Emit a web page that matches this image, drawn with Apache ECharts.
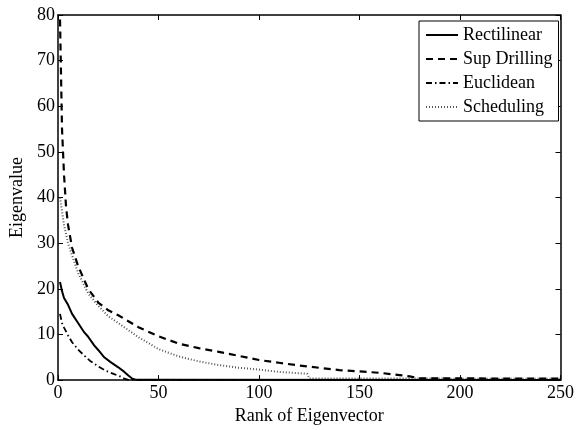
<!DOCTYPE html>
<html>
<head>
<meta charset="utf-8">
<script src="https://cdn.jsdelivr.net/npm/echarts@6/dist/echarts.min.js"></script>
<style>html,body{margin:0;padding:0;background:#fff}#c{width:577px;height:430px}</style>
</head>
<body>
<div id="c"></div>
<script>
const xTicks = [0, 50, 100, 150, 200, 250];
const yTicks = [0, 10, 20, 30, 40, 50, 60, 70, 80];

const rectRank = [1, 2, 3, 5, 7, 10, 13, 15, 18, 20, 23, 26, 30, 33, 35, 37, 39, 250];
const rectVal  = [21.5, 19.5, 18, 16.5, 14.5, 12.5, 10.5, 9.5, 7.6, 6.6, 5.0, 4.0, 2.8, 1.8, 1.0, 0.3, 0.05, 0];

const drillRank = [1, 2, 3, 4, 5, 7, 10, 15, 20, 25, 30, 40, 50, 60, 70, 80, 90, 100, 110, 120, 130, 140, 150, 160, 170, 175, 180, 250];
const drillVal  = [79, 55, 45, 38, 34, 29, 25, 20, 17, 15.3, 14.2, 11.6, 9.6, 8.0, 7.0, 6.2, 5.3, 4.4, 3.8, 3.2, 2.7, 2.2, 1.9, 1.6, 1.1, 0.8, 0.4, 0.3];

const euclRank = [1, 2, 3, 5, 7, 10, 13, 16, 20, 24, 28, 31, 33, 35, 250];
const euclVal  = [14.5, 12.5, 11.5, 9.8, 8.3, 6.7, 5.4, 4.2, 3.0, 2.0, 1.3, 0.8, 0.3, 0.05, 0];

const schedRank = [1, 3, 5, 8, 10, 15, 20, 25, 30, 40, 50, 60, 70, 80, 90, 100, 110, 120, 124, 125, 250];
const schedVal  = [40, 34, 30, 26, 23.5, 19, 16.3, 14, 12.5, 9.4, 6.8, 5.2, 4.1, 3.3, 2.7, 2.3, 1.8, 1.5, 1.4, 0.35, 0.3];

const seriesNames = ['Rectilinear', 'Sup Drilling', 'Euclidean', 'Scheduling'];

function pairs(xs, ys) { return xs.map((x, i) => [x, ys[i]]); }

const font = 'Liberation Serif, Times New Roman, serif';
const chart = echarts.init(document.getElementById('c'), null, {renderer: 'canvas'});

const axisCommon = {
  type: 'value',
  axisLine: {show: true, onZero: false, lineStyle: {color: '#000', width: 1.5}},
  axisTick: {show: true, inside: true, length: 5, lineStyle: {color: '#000', width: 1}},
  splitLine: {show: false},
};

chart.setOption({
  animation: false,
  backgroundColor: '#fff',
  grid: {left: 58, right: 15, top: 15, bottom: 44, containLabel: false},
  xAxis: [
    Object.assign({}, axisCommon, {
      min: 0, max: 250, interval: 50, position: 'bottom',
      name: 'Rank of Eigenvector', nameLocation: 'middle', nameGap: 22,
      nameTextStyle: {fontFamily: font, fontSize: 18, color: '#000'},
      axisLabel: {fontFamily: font, fontSize: 18, color: '#000', margin: 4,
        formatter: v => xTicks.includes(v) ? String(v) : ''}
    }),
    Object.assign({}, axisCommon, {
      min: 0, max: 250, interval: 50, position: 'top', axisLabel: {show: false}
    })
  ],
  yAxis: [
    Object.assign({}, axisCommon, {
      min: 0, max: 80, interval: 10, position: 'left',
      name: 'Eigenvalue', nameLocation: 'middle', nameGap: 30,
      nameTextStyle: {fontFamily: font, fontSize: 18, color: '#000'},
      axisLabel: {fontFamily: font, fontSize: 18, color: '#000', margin: 3,
        formatter: v => yTicks.includes(v) ? String(v) : ''}
    }),
    Object.assign({}, axisCommon, {
      min: 0, max: 80, interval: 10, position: 'right', axisLabel: {show: false}
    })
  ],
  legend: {
    left: 419, top: 21, orient: 'vertical',
    backgroundColor: '#fff', borderColor: '#000', borderWidth: 1,
    padding: [5, 6, 5, 6], itemGap: 6, itemWidth: 32, itemHeight: 14,
    itemStyle: {opacity: 0},
    textStyle: {fontFamily: font, fontSize: 18, color: '#000', lineHeight: 18},
    data: seriesNames
  },
  series: [
    {name: seriesNames[0], type: 'line', symbol: 'none', data: pairs(rectRank, rectVal),
     lineStyle: {color: '#000', width: 2, type: 'solid'}, itemStyle: {color: '#000'}, z: 5},
    {name: seriesNames[1], type: 'line', symbol: 'none', data: pairs(drillRank, drillVal),
     lineStyle: {color: '#000', width: 2.2, type: [7, 5]}, itemStyle: {color: '#000'}, z: 4},
    {name: seriesNames[2], type: 'line', symbol: 'none', data: pairs(euclRank, euclVal),
     lineStyle: {color: '#000', width: 1.8, type: [6, 3, 1.5, 3]}, itemStyle: {color: '#000'}, z: 3},
    {name: seriesNames[3], type: 'line', symbol: 'none', data: pairs(schedRank, schedVal),
     lineStyle: {color: '#555', width: 2, type: [1, 2]}, itemStyle: {color: '#555'}, z: 2}
  ]
});
</script>
</body>
</html>
